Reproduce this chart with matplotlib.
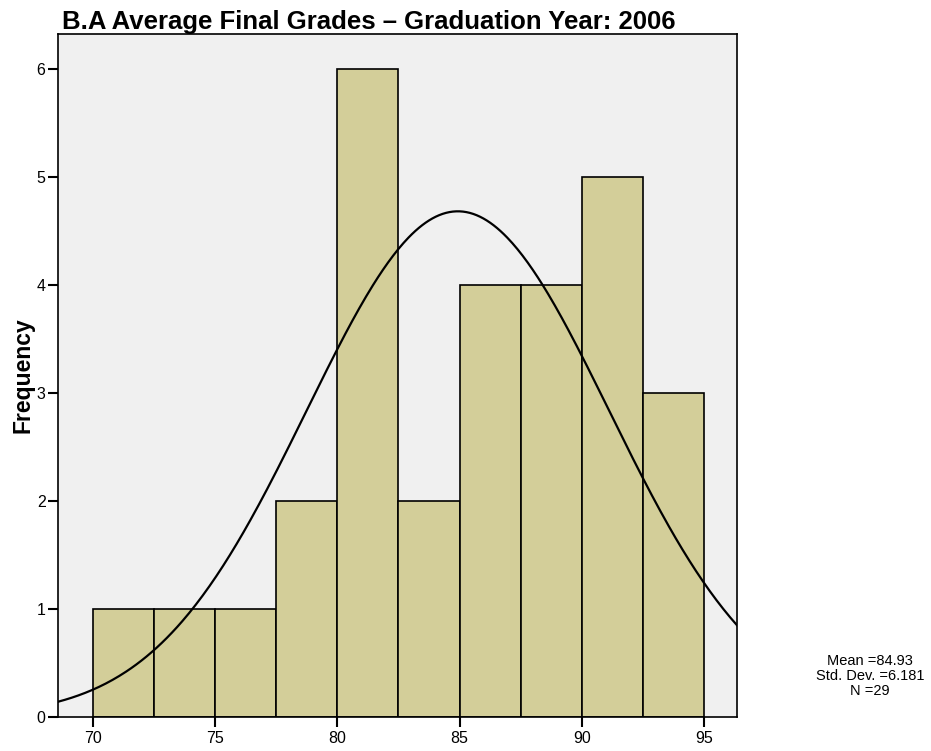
import numpy as np
import matplotlib
matplotlib.use("Agg")
import matplotlib.pyplot as plt

plt.rcParams['font.family'] = ['Liberation Sans', 'DejaVu Sans']

# Histogram bins (grade intervals of 2.5) and their frequencies
bin_edges = [70.0, 72.5, 75.0, 77.5, 80.0, 82.5, 85.0, 87.5, 90.0, 92.5, 95.0]
frequencies = [1, 1, 1, 2, 6, 2, 4, 4, 5, 3]

# Summary statistics
mean_grade = 84.93
std_dev = 6.181
n_students = 29

x_ticks = [70, 75, 80, 85, 90, 95]
y_ticks = [0, 1, 2, 3, 4, 5, 6]

title = "B.A Average Final Grades \u2013 Graduation Year: 2006"

fig = plt.figure(figsize=(9.31, 7.51), dpi=100)
ax = fig.add_axes([0.0623, 0.0453, 0.7293, 0.9094])
ax.set_facecolor('#F0F0F0')

widths = np.diff(bin_edges)
ax.bar(bin_edges[:-1], frequencies, width=widths, align='edge',
       color='#D3CE99', edgecolor='black', linewidth=1.2, zorder=2)

xlim = (68.57, 96.35)
ax.set_xlim(*xlim)
ax.set_ylim(0, 6.32)

# Normal curve scaled to the histogram counts
bw = widths[0]
xs = np.linspace(xlim[0], xlim[1], 400)
ys = n_students * bw / (std_dev * np.sqrt(2 * np.pi)) * np.exp(-0.5 * ((xs - mean_grade) / std_dev) ** 2)
ax.plot(xs, ys, color='black', linewidth=1.6, zorder=3)

ax.set_xticks(x_ticks)
ax.set_yticks(y_ticks)
ax.tick_params(axis='both', direction='out', length=7, width=1.5, labelsize=11.5)
ax.tick_params(axis='x', pad=3)
ax.tick_params(axis='y', pad=2)
for s in ax.spines.values():
    s.set_linewidth(1.2)

ax.set_ylabel('Frequency', fontsize=16.5, fontweight='bold', labelpad=1.5)

fig.text(62 / 931, 1 - 29 / 751, title, fontsize=18.5, fontweight='bold',
         ha='left', va='baseline')

stats = f"Mean ={mean_grade:.2f}\nStd. Dev. ={std_dev:.3f}\nN ={n_students}"
fig.text(870 / 931, 1 - 676 / 751, stats, fontsize=10.5, ha='center', va='center',
         linespacing=1.05)

fig.savefig('out.png', dpi=100)
